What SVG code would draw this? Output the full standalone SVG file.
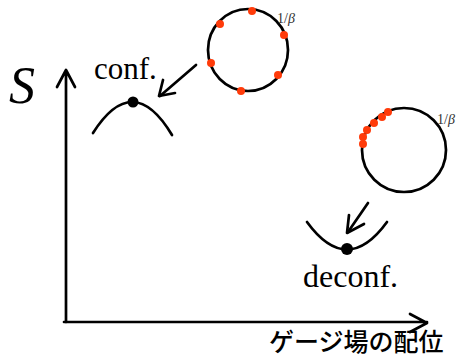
<svg xmlns="http://www.w3.org/2000/svg" width="459" height="358" viewBox="0 0 459 358">
<style>
.ln{fill:none;stroke:#000;stroke-width:2.7;stroke-linecap:round;stroke-linejoin:round}
.dot{fill:#ff3b0a}
.bk{fill:#000}
.lbl{font-family:"Liberation Serif",serif;fill:#000}
.beta{font-family:"Liberation Serif",serif;font-size:14px;fill:#333}
</style>
<rect width="459" height="358" fill="#fff"/>
<g id="connectors">
<path class="ln" d="M196,65 L160,96"/>
<path class="ln" d="M163,80 L159,96 L175,93"/>
<path class="ln" d="M368,203 L348,232"/>
<path class="ln" d="M349,215 L347,233 L364,224"/>
</g>
<g id="axes">
<path class="ln" d="M66,322 L66,70 M57,87 L66,70 L75,87"/>
<path class="ln" d="M64,322 L427,322 M410,314 L427,323 L410,332"/>
<text class="lbl" x="9" y="103" font-size="52" font-style="italic">S</text>
<text x="269" y="351" font-family="'Noto Sans CJK JP',sans-serif" font-size="25" font-weight="500" fill="#000">ゲージ場の配位</text>
</g>
<g id="circle1">
<ellipse class="ln" cx="248" cy="50" rx="40" ry="41"/>
<circle class="dot" cx="252" cy="11" r="4"/>
<circle class="dot" cx="220" cy="24" r="4"/>
<circle class="dot" cx="284" cy="35" r="4"/>
<circle class="dot" cx="211" cy="63" r="4"/>
<circle class="dot" cx="278" cy="75" r="4"/>
<circle class="dot" cx="241" cy="91" r="4"/>
<text class="beta" x="277" y="23">1/<tspan font-style="italic">β</tspan></text>
</g>
<g id="circle2">
<ellipse class="ln" cx="404" cy="150" rx="42" ry="42"/>
<circle class="dot" cx="388" cy="112" r="4"/>
<circle class="dot" cx="382" cy="117" r="4"/>
<circle class="dot" cx="374" cy="123" r="4"/>
<circle class="dot" cx="367" cy="130" r="4"/>
<circle class="dot" cx="363" cy="137" r="4"/>
<circle class="dot" cx="363" cy="144" r="4"/>
<text class="beta" x="437" y="124">1/<tspan font-style="italic">β</tspan></text>
</g>
<g id="conf">
<path class="ln" d="M93,133 Q133,70 172,135"/>
<circle class="bk" cx="133" cy="102" r="5.5"/>
<text class="lbl" x="94" y="79" font-size="31">conf.</text>
</g>
<g id="deconf">
<path class="ln" d="M307,222 Q347,277 387,222"/>
<circle class="bk" cx="347" cy="249" r="6"/>
<text class="lbl" x="303" y="287" font-size="32">deconf.</text>
</g>
</svg>
